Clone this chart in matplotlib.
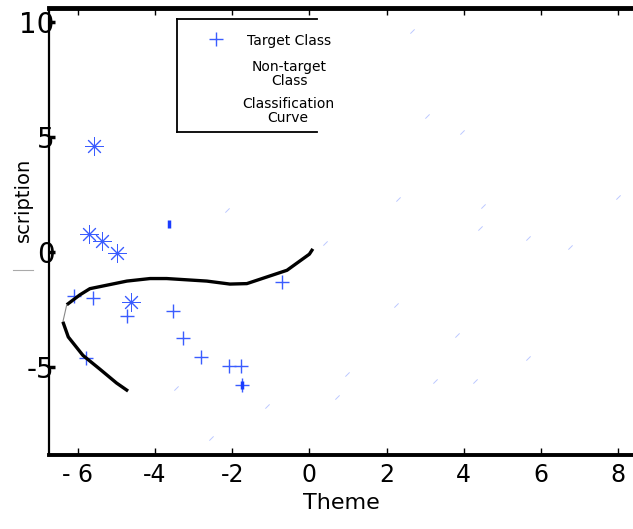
import numpy as np
import matplotlib
matplotlib.use('Agg')
import matplotlib.pyplot as plt
from matplotlib.lines import Line2D

plt.rcParams['font.family'] = ['DejaVu Sans']

# 目标类 (+)
target_x = [-6.1, -5.6, -4.73, -3.54, -3.28, -2.81, -2.09, -1.77, -1.74, -0.71, -5.8]
target_y = [-1.9, -2.0, -2.8, -2.57, -3.74, -4.57, -4.96, -4.96, -5.8, -1.3, -4.6]

# 星号点
star_x = [-5.59, -5.71, -5.38, -4.99, -4.63]
star_y = [4.6, 0.78, 0.48, -0.04, -2.2]

# 小粗点（重叠的标记）
odd_x = [-3.64, -1.74]
odd_y = [1.2, -5.8]

# 非目标类（几乎看不见的小点）
non_x = [2.66, 3.05, 3.96, 2.3, 4.5, 4.42, 5.67, 6.76, 8.0, 0.4, 2.24, 3.83, 5.67,
         0.97, 0.71, 3.26, 4.29, -3.46, -1.1, -2.55, -2.14]
non_y = [9.6, 5.9, 5.2, 2.3, 2.0, 1.04, 0.6, 0.2, 2.4, 0.4, -2.3, -3.6, -4.6,
         -5.3, -6.3, -5.6, -5.6, -5.9, -6.7, -8.1, 1.8]

# 分类曲线
curve_x = [0.09, 0.0, -0.58, -1.1, -1.62, -2.06, -2.66, -3.7, -4.13, -4.73, -5.69,
           -5.95, -6.29, -6.39, -6.25, -5.87, -5.43, -5.0, -4.7]
curve_y = [0.13, -0.1, -0.8, -1.09, -1.38, -1.4, -1.27, -1.16, -1.16, -1.27, -1.6,
           -1.87, -2.3, -3.04, -3.7, -4.5, -5.1, -5.7, -6.05]
split = 13

xticks = [-6, -4, -2, 0, 2, 4, 6, 8]
xtick_labels = ['- 6', '-4', '-2', '0', '2', '4', '6', '8']
yticks = [-5, 0, 5, 10]
ytick_labels = ['-5', '0', '5', '10']

blue = '#3a5cff'

fig = plt.figure(figsize=(6.33, 5.29), dpi=100)
ax = fig.add_axes([49 / 633, 1 - 455 / 529, 1 - 49 / 633, (455 - 8) / 529])

ax.plot(non_x, non_y, linestyle='none', marker=(2, 2, -45), ms=4, mew=0.5,
        color='#c2cdff')
ax.plot(target_x, target_y, linestyle='none', marker='+', ms=10, mew=1, color=blue)
ax.plot(star_x, star_y, linestyle='none', marker=(8, 2, 0), ms=13, mew=0.7, color=blue)
ax.plot(odd_x, odd_y, linestyle='none', marker='|', ms=6, mew=2.5, color='#1a3cff')

ax.plot(curve_x[:split], curve_y[:split], color='black', lw=2.4, solid_capstyle='butt')
ax.plot(curve_x[split - 1:split + 1], curve_y[split - 1:split + 1], color='#888888', lw=0.8)
ax.plot(curve_x[split:], curve_y[split:], color='black', lw=2.4, solid_capstyle='butt')

ax.set_xlim(-6.75, 8.39)
ax.set_ylim(-8.83, 10.6)
ax.set_xticks(xticks)
ax.set_xticklabels(xtick_labels, fontsize=17)
ax.set_yticks(yticks)
ax.set_yticklabels(ytick_labels, fontsize=20)

ax.tick_params(axis='x', direction='in', top=True, length=5, width=1, pad=6)
ax.tick_params(axis='y', direction='in', length=4, width=2.5, pad=-4)

ax.spines['right'].set_visible(False)
ax.spines['top'].set_linewidth(3.5)
ax.spines['bottom'].set_linewidth(2.8)
ax.spines['left'].set_linewidth(1.6)

ax.set_xlabel('Theme', fontsize=16, labelpad=4)
ax.set_ylabel('scription', fontsize=14)
ax.yaxis.set_label_coords(-0.027, 0.57)

# 图例（手动绘制）
def fx(px):
    return px / 633

def fy(py):
    return 1 - py / 529

for (x0, y0, x1, y1) in [(177, 19, 317, 19), (177, 132, 317, 132), (177, 19, 177, 132)]:
    fig.add_artist(Line2D([fx(x0), fx(x1)], [fy(y0), fy(y1)], color='black', lw=1.3))

fig.add_artist(Line2D([fx(216)], [fy(39)], marker='+', ms=10, mew=1, color=blue,
                      linestyle='none'))
leg_font = dict(fontsize=10, ha='center', va='center', multialignment='center',
                linespacing=1.0)
fig.text(fx(289), fy(41), 'Target Class', **leg_font)
fig.text(fx(289), fy(74), 'Non-target\nClass', **leg_font)
fig.text(fx(288), fy(111), 'Classification\nCurve', **leg_font)

fig.add_artist(Line2D([fx(13), fx(33)], [fy(270), fy(270)], color='#aaaaaa', lw=0.8))

fig.savefig('out.png', dpi=100)
